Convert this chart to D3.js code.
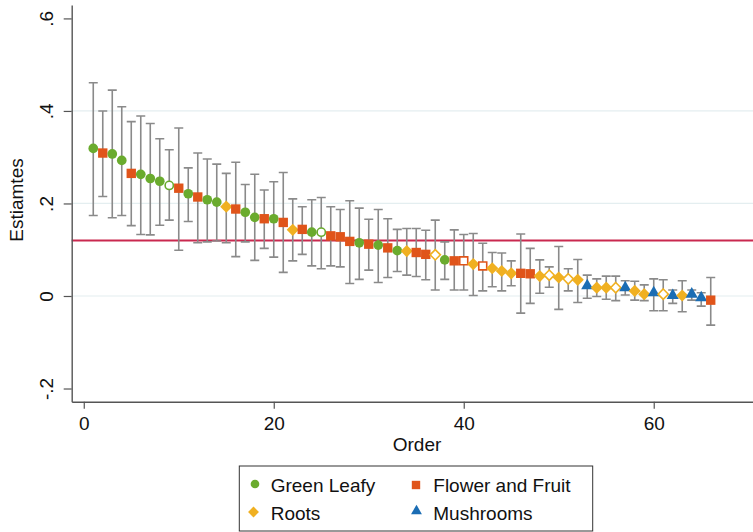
<!DOCTYPE html>
<html>
<head>
<meta charset="utf-8">
<script src="https://cdn.jsdelivr.net/npm/d3@7"></script>
<style>
  html, body { margin: 0; padding: 0; background: #fff; }
  svg { display: block; font-family: "Liberation Sans", Arial, Helvetica, sans-serif; }
</style>
</head>
<body>
<svg id="chart" width="753" height="532"></svg>
<script>
// Ranked estimates with 95% intervals, one entry per item (order 1..66)
const order = d3.range(1, 67);
const group = [
  "G","F","G","G","F","G","G","G","G","F",
  "G","F","G","G","R","F","G","G","F","G",
  "F","R","F","G","G","F","F","F","G","F",
  "G","F","G","R","F","F","R","G","F","F",
  "R","F","R","R","R","F","F","R","R","R",
  "R","R","M","R","R","R","M","R","R","M",
  "R","M","R","M","M","F"
];
const estimate = [
  0.319, 0.309, 0.307, 0.293, 0.265, 0.263, 0.254, 0.248, 0.239, 0.233,
  0.221, 0.214, 0.208, 0.203, 0.193, 0.188, 0.181, 0.170, 0.167, 0.167,
  0.159, 0.143, 0.144, 0.138, 0.138, 0.130, 0.128, 0.118, 0.115, 0.112,
  0.110, 0.104, 0.098, 0.097, 0.094, 0.090, 0.089, 0.078, 0.076, 0.076,
  0.069, 0.065, 0.060, 0.054, 0.049, 0.049, 0.048, 0.043, 0.045, 0.040,
  0.037, 0.035, 0.022, 0.018, 0.018, 0.018, 0.018, 0.011, 0.004, 0.007,
  0.004, 0.001, 0.001, 0.004, -0.004, -0.009
];
const lower = [
  0.174, 0.215, 0.169, 0.174, 0.152, 0.133, 0.132, 0.153, 0.164, 0.099,
  0.161, 0.115, 0.117, 0.119, 0.115, 0.085, 0.117, 0.077, 0.103, 0.084,
  0.051, 0.076, 0.090, 0.065, 0.059, 0.065, 0.063, 0.027, 0.036, 0.056,
  0.029, 0.040, 0.053, 0.045, 0.042, 0.035, 0.013, 0.036, 0.013, 0.013,
  0.001, 0.011, 0.020, 0.011, 0.022, -0.037, -0.016, 0.006, 0.019, -0.029,
  0.011, -0.014, -0.005, -0.001, -0.007, -0.010, 0.002, -0.009, -0.010, -0.032,
  -0.032, -0.016, -0.034, -0.009, -0.022, -0.063
];
const upper = [
  0.461, 0.400, 0.445, 0.409, 0.377, 0.389, 0.373, 0.340, 0.316, 0.363,
  0.277, 0.309, 0.296, 0.285, 0.265, 0.289, 0.241, 0.263, 0.229, 0.247,
  0.267, 0.210, 0.193, 0.208, 0.213, 0.193, 0.187, 0.206, 0.190, 0.166,
  0.187, 0.167, 0.144, 0.146, 0.146, 0.142, 0.164, 0.117, 0.143, 0.133,
  0.135, 0.114, 0.094, 0.093, 0.076, 0.134, 0.103, 0.078, 0.063, 0.107,
  0.059, 0.079, 0.045, 0.037, 0.043, 0.043, 0.033, 0.032, 0.024, 0.037,
  0.035, 0.013, 0.033, 0.013, 0.007, 0.040
];
// items drawn with an open marker
const hollowOrders = [9, 25, 37, 40, 42, 49, 51, 56, 61];
const referenceValue = 0.12;

const groupKeys = ["G", "F", "R", "M"];
const groupNames = ["Green Leafy", "Flower and Fruit", "Roots", "Mushrooms"];
const groupColors = ["#6aab2e", "#e0541a", "#f0b021", "#1b6db4"];

const xTicks = [0, 20, 40, 60];
const yTicks = [-0.2, 0, 0.2, 0.4, 0.6];
const yTickLabels = ["-.2", "0", ".2", ".4", ".6"];
const yGridValues = [0, 0.2, 0.4];

const rows = order.map((o, i) => ({
  order: o, group: group[i], est: estimate[i], lo: lower[i], hi: upper[i],
  hollow: hollowOrders.includes(o)
}));

// marker shapes: filled square diamond (rotated square)
const symbolSquareDiamond = {
  draw(ctx, size) {
    const r = Math.sqrt(size / 2);
    ctx.moveTo(0, -r); ctx.lineTo(r, 0); ctx.lineTo(0, r); ctx.lineTo(-r, 0); ctx.closePath();
  }
};
const shapeOf = { G: d3.symbolCircle, F: d3.symbolSquare, R: symbolSquareDiamond, M: d3.symbolTriangle };
const sizeOf = { G: 74, F: 88, R: 74, M: 64 };
const color = d3.scaleOrdinal().domain(groupKeys).range(groupColors);

const svg = d3.select("#chart");
const x = d3.scaleLinear().domain([-1.27, 70.45]).range([71.7, 753]);
const y = d3.scaleLinear().domain([-0.2285, 0.629]).range([401.7, 5]);

// horizontal gridlines
svg.append("g").selectAll("line").data(yGridValues).join("line")
  .attr("x1", x.range()[0]).attr("x2", x.range()[1])
  .attr("y1", d => y(d)).attr("y2", d => y(d))
  .attr("stroke", "#e4eef0").attr("stroke-width", 1.2);

// reference line
svg.append("line")
  .attr("x1", x.range()[0]).attr("x2", x.range()[1])
  .attr("y1", y(referenceValue)).attr("y2", y(referenceValue))
  .attr("stroke", "#c9294f").attr("stroke-width", 2);

// confidence interval bars with caps
const capHalf = 4.5;
const bars = svg.append("g").attr("stroke", "#8a8a8a").attr("stroke-width", 1.6).attr("fill", "none");
bars.selectAll("path").data(rows).join("path")
  .attr("d", d => {
    const cx = x(d.order), y1 = y(d.hi), y2 = y(d.lo);
    return `M${cx - capHalf},${y1}H${cx + capHalf}M${cx},${y1}V${y2}M${cx - capHalf},${y2}H${cx + capHalf}`;
  });

// point estimates
svg.append("g").selectAll("path").data(rows).join("path")
  .attr("transform", d => `translate(${x(d.order)},${y(d.est)})`)
  .attr("d", d => d3.symbol(shapeOf[d.group], d.hollow ? sizeOf[d.group] * 0.72 : sizeOf[d.group])())
  .attr("fill", d => d.hollow ? "#fff" : color(d.group))
  .attr("stroke", d => d.hollow ? color(d.group) : "none")
  .attr("stroke-width", 1.6);

// axes
const axisColor = "#555";
const xAxis = svg.append("g").attr("transform", `translate(0,${y.range()[0]})`)
  .call(d3.axisBottom(x).tickValues(xTicks).tickSize(7).tickSizeOuter(0).tickFormat(d3.format("d")));
xAxis.select(".domain").attr("stroke", axisColor).attr("stroke-width", 1.4);
xAxis.selectAll(".tick line").attr("stroke", axisColor).attr("stroke-width", 1.2);
xAxis.selectAll(".tick text")
  .attr("y", 28.6).attr("dy", null)
  .attr("fill", "#111").style("font-size", "19px").style("font-family", "inherit");

const yAxis = svg.append("g").attr("transform", `translate(${x.range()[0]},0)`)
  .call(d3.axisLeft(y).tickValues(yTicks).tickSize(8).tickSizeOuter(0)
    .tickFormat((d, i) => yTickLabels[i]));
yAxis.select(".domain").attr("stroke", axisColor).attr("stroke-width", 1.4);
yAxis.selectAll(".tick line").attr("stroke", axisColor).attr("stroke-width", 1.2);
yAxis.selectAll(".tick text")
  .attr("x", null).attr("dy", null)
  .attr("transform", "translate(-18.4,0) rotate(-90)")
  .attr("text-anchor", "middle")
  .attr("fill", "#111").style("font-size", "19px").style("font-family", "inherit");

// axis titles
svg.append("text")
  .attr("x", 417).attr("y", 450.7).attr("text-anchor", "middle")
  .style("font-size", "19px").attr("fill", "#111").text("Order");
svg.append("text")
  .attr("transform", "translate(22.7,200) rotate(-90)").attr("text-anchor", "middle")
  .style("font-size", "19px").attr("fill", "#111").text("Estiamtes");

// legend
const legend = svg.append("g");
legend.append("rect")
  .attr("x", 239.3).attr("y", 466).attr("width", 353.4).attr("height", 65)
  .attr("fill", "#fff").attr("stroke", "#333").attr("stroke-width", 1);
const legendPos = [
  { mx: 255, my: 484, tx: 270.7, ty: 491.7 },
  { mx: 416, my: 485, tx: 433.3, ty: 491.7 },
  { mx: 253.5, my: 512, tx: 270.7, ty: 520 },
  { mx: 416.5, my: 511, tx: 433.3, ty: 520 }
];
groupKeys.forEach((k, i) => {
  const p = legendPos[i];
  legend.append("path")
    .attr("transform", `translate(${p.mx},${p.my})`)
    .attr("d", d3.symbol(shapeOf[k], sizeOf[k] * 0.8)())
    .attr("fill", color(k));
  legend.append("text")
    .attr("x", p.tx).attr("y", p.ty)
    .style("font-size", "19px").attr("fill", "#111").text(groupNames[i]);
});
</script>
</body>
</html>
